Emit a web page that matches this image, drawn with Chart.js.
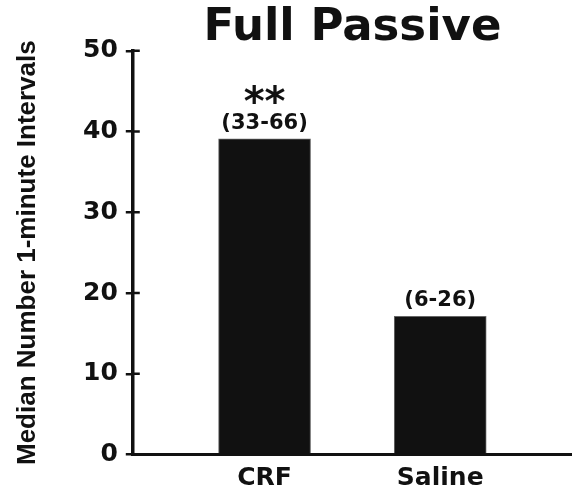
<!DOCTYPE html>
<html>
<head>
<meta charset="utf-8">
<script src="https://cdn.jsdelivr.net/npm/chart.js@4/dist/chart.umd.min.js"></script>
<style>
  html, body { margin: 0; padding: 0; background: #fff; }
  #wrap { width: 572px; height: 491px; position: relative; }
</style>
</head>
<body>
<div id="wrap"><canvas id="chart"></canvas></div>
<script>
const categories = ['CRF', 'Saline'];
const medians = [39.1, 17.1];
const ranges = ['(33-66)', '(6-26)'];
const marks = ['**', ''];
const yTickValues = [0, 10, 20, 30, 40, 50];

const INK = '#111111';
const BOLD_FONT = "'DejaVu Sans', sans-serif";

// range labels and significance stars sit above each bar
const barNotes = {
    id: 'barNotes',
    afterDatasetsDraw(chart) {
        const ctx = chart.ctx;
        const bars = chart.getDatasetMeta(0).data;
        ctx.save();
        ctx.fillStyle = INK;
        ctx.textAlign = 'center';
        ctx.textBaseline = 'alphabetic';
        bars.forEach((bar, i) => {
            ctx.font = 'bold 21px ' + BOLD_FONT;
            ctx.fillText(ranges[i], bar.x, bar.y - 10);
            if (marks[i]) {
                ctx.font = 'bold 40px ' + BOLD_FONT;
                ctx.fillText(marks[i], bar.x, bar.y - 24);
            }
        });
        ctx.restore();
    }
};

// y ticks cross the axis: draw the inner half of each tick
const innerTicks = {
    id: 'innerTicks',
    afterDraw(chart) {
        const ctx = chart.ctx;
        const y = chart.scales.y;
        const left = chart.chartArea.left;
        ctx.save();
        ctx.strokeStyle = INK;
        ctx.lineWidth = 2.5;
        y.ticks.forEach((t) => {
            const py = y.getPixelForValue(t.value);
            ctx.beginPath();
            ctx.moveTo(left, py);
            ctx.lineTo(left + 7, py);
            ctx.stroke();
        });
        ctx.restore();
    }
};

new Chart(document.getElementById('chart'), {
    type: 'bar',
    data: {
        datasets: [{
            data: categories.map((c, i) => ({ x: i + 1, y: medians[i] })),
            backgroundColor: INK,
            borderColor: '#666666',
            borderWidth: 1,
            borderSkipped: 'bottom',
            barThickness: 92
        }]
    },
    options: {
        responsive: true,
        maintainAspectRatio: false,
        animation: false,
        layout: { padding: { left: 0, right: 0, top: 0, bottom: -12 } },
        plugins: {
            legend: { display: false },
            tooltip: { enabled: false },
            title: {
                display: true,
                text: 'Full Passive',
                fullSize: false,
                color: INK,
                font: { family: BOLD_FONT, size: 45, weight: 'bold', lineHeight: 0.95 },
                padding: { top: 7, bottom: 1 }
            }
        },
        scales: {
            x: {
                type: 'linear',
                min: 0.25,
                max: 2.75,
                offset: false,
                afterBuildTicks: (scale) => {
                    scale.ticks = categories.map((c, i) => ({ value: i + 1 }));
                },
                grid: { display: false, drawTicks: false, tickLength: 0, offset: false },
                border: { display: true, color: INK, width: 3 },
                ticks: {
                    color: INK,
                    padding: 13,
                    autoSkip: false,
                    maxRotation: 0,
                    font: { family: BOLD_FONT, size: 25, weight: 'bold', lineHeight: 0.9 },
                    callback: (v) => categories[v - 1]
                }
            },
            y: {
                min: 0,
                max: 50,
                afterBuildTicks: (scale) => {
                    scale.ticks = yTickValues.map((v) => ({ value: v }));
                },
                grid: {
                    drawOnChartArea: false,
                    drawTicks: true,
                    tickLength: 7,
                    color: INK,
                    lineWidth: 2.5
                },
                border: { display: true, color: INK, width: 3.5 },
                ticks: {
                    color: INK,
                    padding: 8,
                    font: { family: BOLD_FONT, size: 25, weight: 'bold' }
                },
                title: {
                    display: true,
                    text: 'Median Number 1-minute Intervals',
                    color: INK,
                    font: { family: "'Liberation Sans', Arial, sans-serif", size: 26, weight: 'bold', lineHeight: 1 },
                    padding: { top: 15, bottom: 34 }
                }
            }
        }
    },
    plugins: [barNotes, innerTicks]
});
</script>
</body>
</html>
